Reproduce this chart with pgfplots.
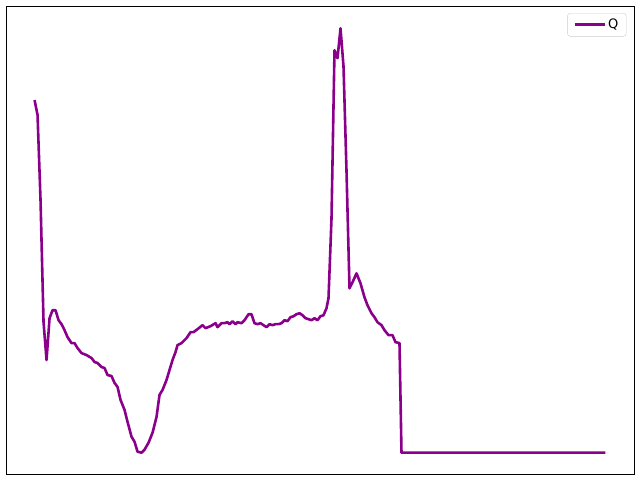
\documentclass[border=0pt]{standalone}
\usepackage{pgfplots}
\pgfplotsset{compat=1.18}
\usepackage{fontspec}
\setmainfont{DejaVu Sans}
\definecolor{qline}{RGB}{139,0,139}

\pgfplotstableread{
x y
35 99
38 114
41 200
44 322
47 360
50 318
53 310
56 310
59 320
62 324
65 330
68 337
72 343
75 343
78 348
82 353
87 355
92 358
95 362
98 363
102 367
105 368
108 375
112 376
115 383
118 387
121 400
125 410
128 422
132 437
135 442
138 452
142 453
145 450
149 443
153 433
157 417
160 395
163 390
167 380
170 370
173 360
176 352
178 345
182 343
187 338
191 332
194 332
198 329
203 325
206 328
211 326
216 323
218 327
222 323
225 323
228 322
230 324
233 321
236 324
238 322
242 323
245 320
249 314
252 314
255 323
258 324
261 323
264 325
267 327
270 324
273 325
276 324
279 324
282 323
285 320
288 321
291 317
294 316
297 314
300 313
303 315
306 318
309 319
312 320
315 318
318 320
321 316
324 315
327 308
329 298
332 218
335 49
338 57
341 27
344 65
347 170
350 288
353 282
357 273
361 283
365 297
368 305
372 313
375 317
378 322
382 325
385 330
389 335
393 335
396 342
400 343
402 453
606 453
}\qdata

\begin{document}
\begin{tikzpicture}
\begin{axis}[
    name=main,
    scale only axis,
    width=628pt,
    height=468pt,
    xmin=6.45, xmax=634.55,
    ymin=4.6, ymax=474.4,
    y dir=reverse,
    xtick=\empty,
    ytick=\empty,
    axis line style={line width=0.9pt},
    legend style={at={(0.988,0.985)}, anchor=north east,
        draw=black!20, rounded corners=3pt,
        font=\fontsize{13}{15}\selectfont,
        inner xsep=6pt, inner ysep=4pt},
    legend image code/.code={\draw[qline, line width=2.6pt] (0pt,0pt) -- (30pt,0pt);},
]
\addplot[qline, line width=2.6pt, line join=round] table[x=x, y=y] {\qdata};
\addlegendentry{Q}
\end{axis}
\path (main.south west) ++(-6pt,-6pt);
\path (main.north east) ++(6pt,6pt);
\end{tikzpicture}
\end{document}
